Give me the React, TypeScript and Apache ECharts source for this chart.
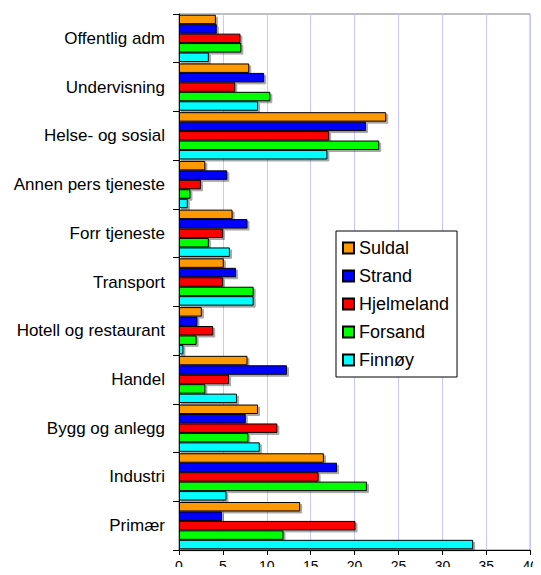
import React, { useEffect, useRef } from "react";
import * as echarts from "echarts";

const categories = [
  "Offentlig adm",
  "Undervisning",
  "Helse- og sosial",
  "Annen pers tjeneste",
  "Forr tjeneste",
  "Transport",
  "Hotell og restaurant",
  "Handel",
  "Bygg og anlegg",
  "Industri",
  "Primær",
];

const seriesNames = ["Suldal", "Strand", "Hjelmeland", "Forsand", "Finnøy"];
const seriesColors = ["#FF9900", "#0000FF", "#FF0000", "#00FF00", "#00FFFF"];

const suldal = [4.2, 8.0, 23.6, 3.0, 6.1, 5.1, 2.6, 7.8, 9.0, 16.5, 13.8];
const strand = [4.3, 9.7, 21.3, 5.5, 7.8, 6.5, 2.1, 12.3, 7.6, 18.0, 4.9];
const hjelmeland = [7.0, 6.4, 17.1, 2.5, 5.0, 5.0, 3.9, 5.7, 11.2, 15.9, 20.1];
const forsand = [7.1, 10.4, 22.8, 1.3, 3.4, 8.5, 2.0, 3.0, 7.9, 21.4, 11.9];
const finnoy = [3.4, 9.0, 16.9, 1.0, 5.8, 8.5, 0.5, 6.6, 9.2, 5.4, 33.5];

const seriesData = [suldal, strand, hjelmeland, forsand, finnoy];

const xTicks = [0, 5, 10, 15, 20, 25, 30, 35, 40];

export default function App() {
  const ref = useRef<HTMLDivElement>(null);
  useEffect(() => {
    if (!ref.current) return;
    const chart = echarts.init(ref.current, null, { renderer: "svg" });
    const font = "'Liberation Sans', Arial, sans-serif";
    chart.setOption({
      animation: false,
      textStyle: { fontFamily: font },
      grid: {
        left: 179,
        right: 6,
        top: 14,
        bottom: 25,
        show: true,
        borderColor: "#808080",
        borderWidth: 1,
      },
      legend: {
        orient: "vertical",
        left: 336,
        top: 231,
        padding: [8, 8, 8, 6],
        itemGap: 10,
        itemWidth: 11,
        itemHeight: 11,
        backgroundColor: "#fff",
        borderColor: "#000",
        borderWidth: 1,
        textStyle: { fontFamily: font, fontSize: 18, color: "#000", lineHeight: 18 },
        data: seriesNames.map((n) => ({ name: n, icon: "rect" })),
      },
      xAxis: {
        type: "value",
        min: xTicks[0],
        max: xTicks[xTicks.length - 1],
        interval: 5,
        axisLine: { show: true, lineStyle: { color: "#000" } },
        axisTick: { show: true, length: 5, lineStyle: { color: "#000" } },
        axisLabel: { color: "#000", fontSize: 14, fontFamily: font, margin: 9 },
        splitLine: { show: true, lineStyle: { color: "#C8C8FF" } },
      },
      yAxis: {
        type: "category",
        inverse: true,
        data: categories,
        axisLine: { show: true, lineStyle: { color: "#000" } },
        axisTick: { show: true, length: 6, lineStyle: { color: "#000" } },
        axisLabel: { color: "#000", fontSize: 17, fontFamily: font, margin: 14 },
        splitLine: { show: false },
      },
      series: seriesNames.map((name, i) => ({
        name,
        type: "bar",
        data: seriesData[i],
        barGap: "0%",
        barCategoryGap: "3%",
        itemStyle: {
          color: seriesColors[i],
          borderColor: "#000",
          borderWidth: 1,
          shadowColor: "rgba(0,0,0,0.35)",
          shadowOffsetX: 2,
          shadowOffsetY: 2,
          shadowBlur: 0,
        },
      })),
    });
    return () => chart.dispose();
  }, []);
  return <div ref={ref} style={{ width: 541, height: 575, margin: -8 }} />;
}
